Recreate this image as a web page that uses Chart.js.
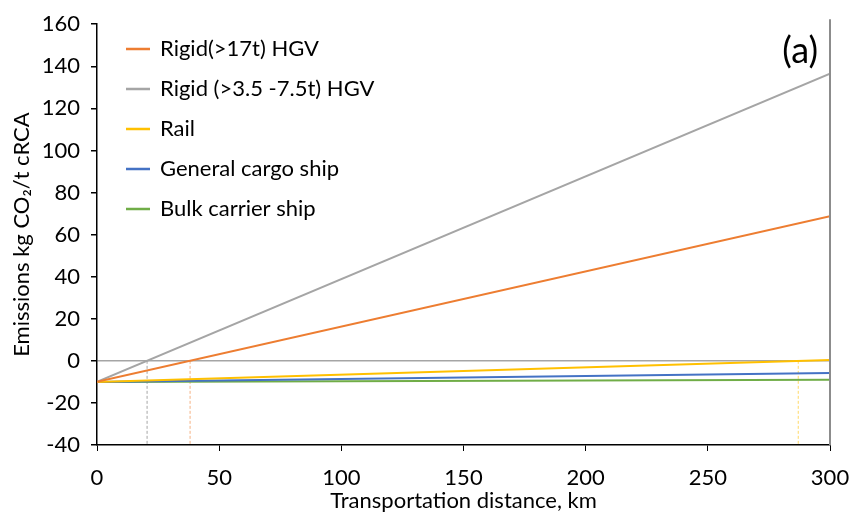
<!DOCTYPE html>
<html lang="en">
<head>
    <meta charset="UTF-8">
    <title>Emissions vs transportation distance (a)</title>
    <script src="https://cdn.jsdelivr.net/npm/chart.js"></script>
    <style>
        html, body { margin: 0; padding: 0; background: #fff; }
        #wrap { width: 851px; height: 522px; }
    </style>
</head>
<body>
    <div id="wrap"><canvas id="emissionsChart" width="851" height="522"></canvas></div>
    <script>
        // Data (kg CO2/t cRCA at 0 km and 300 km)
        const distances = [0, 300];
        const rigid17 = [-10, 68.7];
        const rigid35 = [-10, 136.5];
        const rail = [-10, 0.4];
        const generalCargo = [-10, -5.8];
        const bulkCarrier = [-10, -9.0];

        // Break-even distances (where each line crosses 0)
        const breakEven = [20.5, 38.1, 287];
        const breakEvenColors = ['#A5A5A5', '#F4B183', '#FFD966'];

        const xTicks = [0, 50, 100, 150, 200, 250, 300];
        const yTicks = [-40, -20, 0, 20, 40, 60, 80, 100, 120, 140, 160];

        const FONT = 'Lato, "Open Sans", sans-serif';
        const FS = 22;

        function pts(values) {
            return distances.map((d, i) => ({ x: d, y: values[i] }));
        }

        const series = [
            { label: 'Rigid(>17t) HGV', values: rigid17, color: '#ED7D31' },
            { label: 'Rigid (>3.5 -7.5t) HGV', values: rigid35, color: '#A5A5A5' },
            { label: 'Rail', values: rail, color: '#FFC000' },
            { label: 'General cargo ship', values: generalCargo, color: '#4472C4' },
            { label: 'Bulk carrier ship', values: bulkCarrier, color: '#70AD47' }
        ];

        const datasets = series.map(s => ({
            label: s.label,
            data: pts(s.values),
            borderColor: s.color,
            backgroundColor: s.color,
            borderWidth: 2,
            pointRadius: 0,
            fill: false,
            tension: 0
        }));

        // dashed drop lines from y=0 to the bottom of the axis
        breakEven.forEach((b, i) => {
            datasets.push({
                label: '',
                data: [{ x: b, y: 0 }, { x: b, y: yTicks[0] }],
                borderColor: breakEvenColors[i],
                borderWidth: 1,
                borderDash: [3, 2],
                pointRadius: 0,
                fill: false,
                hideInLegend: true
            });
        });

        // right border + panel label, nudge legend inward
        const framePlugin = {
            id: 'frame',
            afterLayout(chart) {
                if (chart.legend) {
                    chart.legend.left += 12;
                    chart.legend.top += 20;
                }
            },
            afterDraw(chart) {
                const { ctx, chartArea } = chart;
                ctx.save();
                ctx.strokeStyle = '#8C8C8C';
                ctx.lineWidth = 2;
                ctx.beginPath();
                ctx.moveTo(chartArea.right, chartArea.top - 5);
                ctx.lineTo(chartArea.right, chartArea.bottom);
                ctx.stroke();
                ctx.fillStyle = '#000';
                ctx.font = '36px ' + FONT;
                ctx.textAlign = 'right';
                ctx.textBaseline = 'alphabetic';
                ctx.fillText('(a)', chartArea.right - 12, 63);
                ctx.restore();
            }
        };

        new Chart(document.getElementById('emissionsChart'), {
            type: 'line',
            data: { datasets },
            plugins: [framePlugin],
            options: {
                responsive: false,
                animation: false,
                layout: { padding: { top: 20, right: 21, left: 0, bottom: 0 } },
                plugins: {
                    tooltip: { enabled: false },
                    legend: {
                        position: 'chartArea',
                        align: 'start',
                        labels: {
                            font: { family: FONT, size: FS },
                            color: '#000',
                            boxWidth: 22,
                            boxHeight: 0.5,
                            padding: 18,
                            filter: (item, data) => !data.datasets[item.datasetIndex].hideInLegend
                        }
                    }
                },
                scales: {
                    x: {
                        type: 'linear',
                        min: 0,
                        max: 300,
                        afterBuildTicks: s => { s.ticks = xTicks.map(v => ({ value: v })); },
                        afterFit: s => { s.height = 77; s.paddingRight = 0; s.paddingLeft = 0; },
                        border: { color: '#000', width: 1.5 },
                        grid: {
                            color: 'transparent',
                            tickColor: '#000',
                            tickLength: 6,
                            drawOnChartArea: false
                        },
                        ticks: { font: { family: FONT, size: FS }, color: '#000', padding: 14, maxRotation: 0 },
                        title: {
                            display: true,
                            text: 'Transportation distance, km',
                            font: { family: FONT, size: FS },
                            color: '#000',
                            padding: { top: 0, bottom: 8 }
                        }
                    },
                    y: {
                        min: -40,
                        max: 160,
                        afterBuildTicks: s => { s.ticks = yTicks.map(v => ({ value: v })); },
                        afterFit: s => { s.width = 97; },
                        border: { color: '#000', width: 1.5 },
                        grid: {
                            color: c => (c.tick && c.tick.value === 0 ? '#A5A5A5' : 'transparent'),
                            tickColor: '#000',
                            tickLength: 6,
                            lineWidth: 1.5
                        },
                        ticks: { font: { family: FONT, size: FS }, color: '#000', padding: 11 },
                        title: {
                            display: true,
                            text: 'Emissions kg CO\u2082/t cRCA',
                            font: { family: FONT, size: FS },
                            color: '#000',
                            padding: { top: 9, bottom: 4 }
                        }
                    }
                }
            }
        });
    </script>
</body>
</html>
